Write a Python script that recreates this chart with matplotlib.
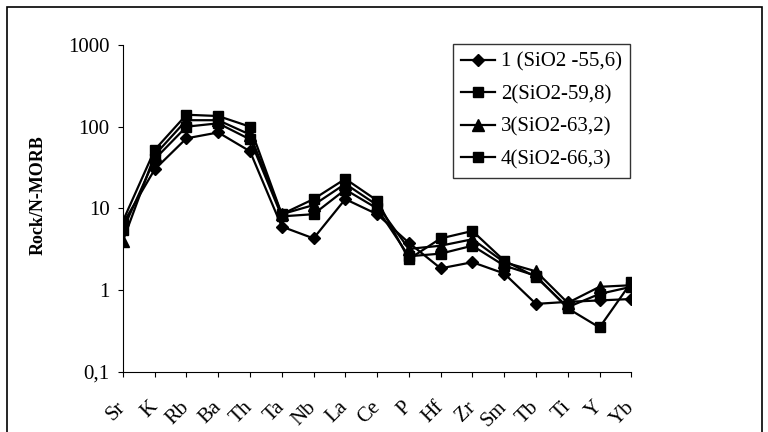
import matplotlib.pyplot as plt
import matplotlib.transforms as mtransforms
from matplotlib.patches import Rectangle
from matplotlib.ticker import FixedLocator, NullLocator

elements = ["Sr", "K", "Rb", "Ba", "Th", "Ta", "Nb", "La", "Ce", "P",
            "Hf", "Zr", "Sm", "Tb", "Ti", "Y", "Yb"]

s1 = [6.5, 30, 72, 85, 50, 6.0, 4.3, 13, 8.5, 3.8, 1.85, 2.2, 1.6, 0.68, 0.72, 0.75, 0.78]
s2 = [5.5, 40, 100, 110, 70, 8.0, 8.5, 17, 10, 2.6, 2.8, 3.5, 2.0, 1.5, 0.6, 0.35, 1.25]
s3 = [4.0, 45, 120, 120, 80, 8.5, 11, 20, 11, 3.2, 3.5, 4.2, 2.2, 1.7, 0.7, 1.1, 1.15]
s4 = [7.0, 52, 140, 135, 100, 8.5, 13, 23, 12.5, 2.4, 4.3, 5.3, 2.3, 1.45, 0.62, 0.9, 1.1]

labels = ["1 (SiO2 -55,6)", "2(SiO2-59,8)", "3(SiO2-63,2)", "4(SiO2-66,3)"]
markers = ["D", "s", "^", "s"]
msizes = [6.5, 7.5, 8, 7.5]

plt.rcParams['font.family'] = ['Liberation Serif', 'DejaVu Serif']

fig = plt.figure(figsize=(7.68, 4.32), dpi=100)
ax = fig.add_axes([0.160, 0.139, 0.662, 0.757])

x = list(range(len(elements)))
for ys, lab, m, ms in zip([s1, s2, s3, s4], labels, markers, msizes):
    ax.plot(x, ys, color="black", lw=1.6, marker=m, markersize=ms, label=lab)

ax.set_yscale("log")
ax.set_ylim(0.1, 1000)
ax.set_xlim(0, len(elements) - 1)
ax.yaxis.set_major_locator(FixedLocator([0.1, 1, 10, 100, 1000]))
ax.yaxis.set_minor_locator(NullLocator())
ax.set_yticklabels(["0,1", "1", "10", "100", "1000"], fontsize=15)
ax.set_xticks(x)
ax.set_xticklabels(elements, rotation=45, fontsize=15, ha="right", va="center",
                   rotation_mode="anchor")
shift = mtransforms.ScaledTranslation(-15 / 100, 0, fig.dpi_scale_trans)
for t in ax.get_xticklabels():
    t.set_transform(t.get_transform() + shift)
ax.tick_params(axis="x", direction="out", length=3.5, pad=20)
ax.tick_params(axis="y", direction="out", length=3.5, pad=6)
for sp in ["top", "right"]:
    ax.spines[sp].set_visible(False)
ax.set_ylabel("Rock/N-MORB", fontsize=13, fontweight="bold")
ax.yaxis.set_label_coords(-0.150, 0.54)

leg = ax.legend(loc="upper left", bbox_to_anchor=(453 / 768, 1 - 44 / 432),
                bbox_transform=fig.transFigure, fontsize=15, frameon=True,
                fancybox=False, edgecolor="black", handlelength=1.6,
                borderpad=0.4, labelspacing=0.62, handletextpad=0.3,
                borderaxespad=0)
leg.get_frame().set_linewidth(1.0)

fig.patches.append(Rectangle((7 / 768, -0.05), 755 / 768, 1 - 7 / 432 + 0.05,
                             transform=fig.transFigure, fill=False,
                             edgecolor="black", lw=1.2))

fig.savefig("out.png", dpi=100)
